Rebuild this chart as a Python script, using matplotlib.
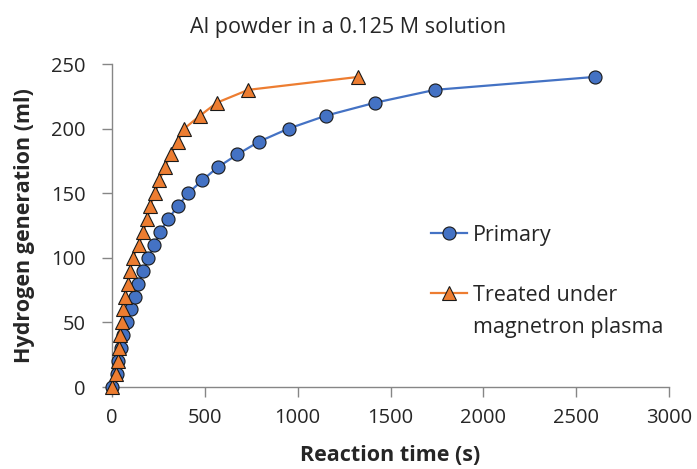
import matplotlib

matplotlib.use("Agg")
import matplotlib.pyplot as plt

plt.rcParams["font.family"] = ["Open Sans", "DejaVu Sans"]

# hydrogen volume (ml) and reaction time (s)
primary_ml = [0, 10, 20, 30, 40, 50, 60, 70, 80, 90, 100, 110, 120, 130, 140, 150, 160,
              170, 180, 190, 200, 210, 220, 230, 240]
primary_s = [2, 25, 34, 47, 61, 82, 101, 124, 142, 169, 196, 228, 258, 303, 354, 411, 486,
             569, 675, 793, 951, 1152, 1416, 1740, 2600]

treated_ml = [0, 10, 20, 30, 40, 50, 60, 70, 80, 90, 100, 110, 120, 130, 140, 150, 160,
              170, 180, 190, 200, 210, 220, 230, 240]
treated_s = [2, 22, 34, 39, 43, 52, 61, 72, 88, 97, 111, 144, 169, 190, 205, 233, 255,
             285, 316, 354, 389, 474, 564, 734, 1326]

title = "Al powder in a 0.125 M solution"
x_label = "Reaction time (s)"
y_label = "Hydrogen generation (ml)"
x_ticks = [0, 500, 1000, 1500, 2000, 2500, 3000]
y_ticks = [0, 50, 100, 150, 200, 250]

blue = "#4472C4"
orange = "#ED7D31"
grey = "#868686"
text_col = "#262626"

fig = plt.figure(figsize=(6.97, 4.69), dpi=100)
ax = fig.add_axes([112 / 697, 1 - 387 / 469, 557 / 697, 323 / 469])

ax.plot(primary_s, primary_ml, color=blue, linewidth=1.6, marker="o", markersize=9.4,
        markerfacecolor=blue, markeredgecolor="#1a1a1a", markeredgewidth=0.8,
        label="Primary", clip_on=False, zorder=3)
ax.plot(treated_s, treated_ml, color=orange, linewidth=1.6, marker="^", markersize=10,
        markerfacecolor=orange, markeredgecolor="#1a1a1a", markeredgewidth=0.8,
        label="Treated under", clip_on=False, zorder=4)

ax.set_xlim(0, 3000)
ax.set_ylim(0, 250)
ax.set_xticks(x_ticks)
ax.set_yticks(y_ticks)
for side in ("top", "right"):
    ax.spines[side].set_visible(False)
for side in ("left", "bottom"):
    ax.spines[side].set_color(grey)
    ax.spines[side].set_linewidth(1.0)
ax.tick_params(axis="x", direction="out", length=7, width=1.0, color=grey, pad=8,
               labelsize=14.5, labelcolor=text_col)
ax.tick_params(axis="y", direction="out", length=7, width=1.0, color=grey, pad=12,
               labelsize=14.5, labelcolor=text_col)

fig.text(348 / 697, 1 - 28 / 469, title, ha="center", va="center", fontsize=15.5, color=text_col)
ax.set_xlabel(x_label, fontsize=15.5, fontweight="bold", color=text_col, va="center")
ax.set_ylabel(y_label, fontsize=15.5, fontweight="bold", color=text_col, va="center")
ax.xaxis.set_label_coords(0.5, (387 - 455) / 323)
ax.yaxis.set_label_coords((25 - 112) / 557, 0.5)

leg = ax.legend(loc="upper left", bbox_to_anchor=(420 / 697, 1 - 214 / 469),
                bbox_transform=fig.transFigure, frameon=False, fontsize=15.5,
                handlelength=1.7, handletextpad=0.25, labelspacing=1.8, borderpad=0)
for t in leg.get_texts():
    t.set_color(text_col)

fig.canvas.draw()
bb = leg.get_texts()[1].get_window_extent().transformed(fig.transFigure.inverted())
fig.text(bb.x0, (bb.y0 + bb.y1) / 2 - 32 / 469, "magnetron plasma", ha="left", va="center",
         fontsize=15.5, color=text_col)

fig.savefig("out.png", dpi=100)
